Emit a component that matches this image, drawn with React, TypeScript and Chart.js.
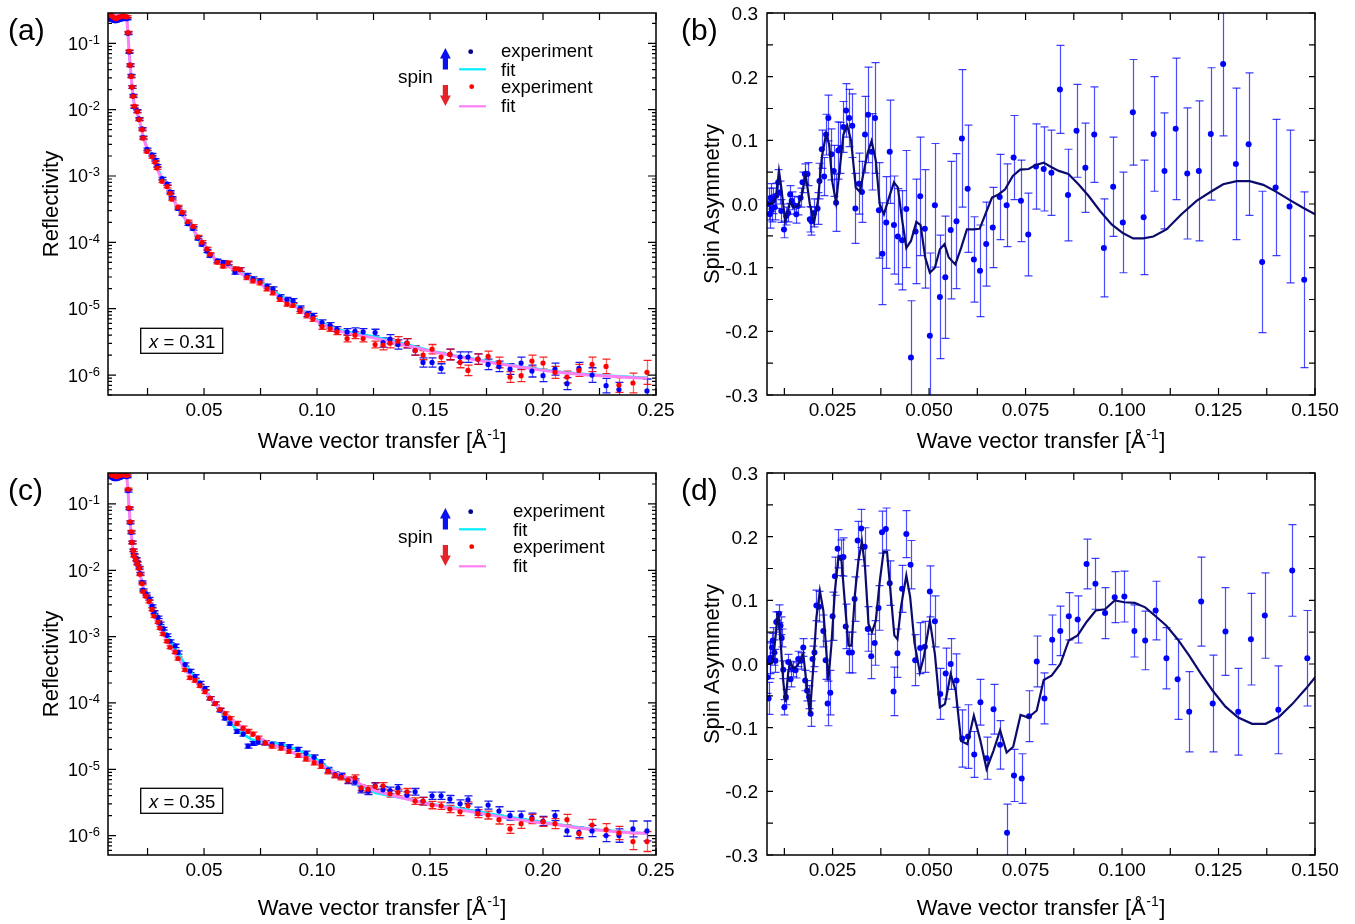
import { useEffect, useRef } from 'react';
import { Chart, registerables } from 'chart.js';
Chart.register(...registerables);

const FONT = '"Liberation Sans", Arial, Helvetica, sans-serif';

// ---------- tick labels ----------
const xTicksRefl = [0.05, 0.1, 0.15, 0.2, 0.25];
const xTicksAsym = [0.025, 0.05, 0.075, 0.1, 0.125, 0.15];
const yTicksAsym = [-0.3, -0.2, -0.1, 0.0, 0.1, 0.2, 0.3];
const logDecades = [-1, -2, -3, -4, -5, -6];
const xTickMarksRefl = [0.025, 0.05, 0.075, 0.1, 0.125, 0.15, 0.175, 0.2, 0.225, 0.25];
const xTickMarksAsym = [0.0125, 0.025, 0.0375, 0.05, 0.0625, 0.075, 0.0875, 0.1, 0.1125, 0.125, 0.1375, 0.15];
const yTickMarksAsym = [-0.3, -0.25, -0.2, -0.15, -0.1, -0.05, 0, 0.05, 0.1, 0.15, 0.2, 0.25, 0.3];

// ---------- panel (a): q, log10 R(spin up), log10 R(spin down), error (dex) ----------
const reflA: [number, number | null, number, number][] = [
  [0.0080, -0.62, -0.57, 0.015], [0.0088, -0.64, -0.58, 0.015], [0.0096, -0.65, -0.60, 0.015],
  [0.0104, -0.66, -0.62, 0.015], [0.0112, -0.66, -0.63, 0.015], [0.0120, -0.65, -0.61, 0.015],
  [0.0128, -0.64, -0.60, 0.015], [0.0136, -0.63, -0.59, 0.015], [0.0144, -0.63, -0.59, 0.015],
  [0.0152, -0.62, -0.60, 0.015], [0.0158, -0.63, -0.60, 0.015],
  [0.0164, -0.85, -0.84, 0.02], [0.0168, -1.13, -1.12, 0.02], [0.0173, -1.33, -1.33, 0.02],
  [0.0177, -1.49, -1.50, 0.02], [0.0181, -1.66, -1.66, 0.02], [0.0186, -1.79, -1.80, 0.02],
  [0.0192, -1.96, -1.95, 0.02], [0.0204, -2.02, -2.03, 0.02], [0.0212, -2.14, -2.15, 0.02],
  [0.0226, -2.29, -2.30, 0.02], [0.0230, -2.42, -2.43, 0.02], [0.0248, -2.60, -2.63, 0.02],
  [0.0270, -2.68, -2.71, 0.02], [0.0283, -2.76, -2.79, 0.02], [0.0292, -2.85, -2.88, 0.02],
  [0.0314, -3.04, -3.08, 0.02], [0.0336, -3.12, -3.16, 0.02], [0.0350, -3.24, -3.26, 0.02],
  [0.0358, -3.33, -3.35, 0.02],
  [0.0385, -3.49, -3.47, 0.025], [0.0403, -3.57, -3.55, 0.025], [0.0429, -3.72, -3.69, 0.025],
  [0.0451, -3.79, -3.76, 0.025], [0.0473, -3.94, -3.92, 0.025], [0.0491, -4.03, -4.00, 0.025],
  [0.0513, -4.13, -4.10, 0.025], [0.0527, -4.20, -4.18, 0.025], [0.0558, -4.28, -4.30, 0.025],
  [0.0584, -4.30, -4.36, 0.025], [0.0606, -4.32, -4.31, 0.025],
  [0.0637, -4.45, -4.40, 0.03], [0.0659, -4.41, -4.41, 0.03], [0.0690, -4.50, -4.53, 0.03],
  [0.0717, -4.55, -4.58, 0.03], [0.0748, -4.58, -4.61, 0.03], [0.0779, -4.66, -4.70, 0.03],
  [0.0805, -4.70, -4.76, 0.03], [0.0836, -4.82, -4.86, 0.03], [0.0867, -4.86, -4.93, 0.03],
  [0.0894, -4.88, -4.95, 0.03],
  [0.0925, -5.00, -5.03, 0.04], [0.0956, -5.08, -5.10, 0.04], [0.0982, -5.11, -5.15, 0.04],
  [0.1022, -5.21, -5.27, 0.04], [0.1058, -5.25, -5.30, 0.04], [0.1088, -5.31, -5.35, 0.04],
  [0.1133, -5.35, -5.45, 0.05], [0.1168, -5.34, -5.40, 0.05], [0.1204, -5.35, -5.45, 0.05],
  [0.1257, -5.36, -5.54, 0.05],
  [0.1292, -5.51, -5.55, 0.07], [0.1323, -5.46, -5.52, 0.07], [0.1358, -5.54, -5.49, 0.07],
  [0.1398, -5.52, -5.52, 0.07], [0.1434, -5.63, -5.63, 0.07], [0.1469, -5.81, -5.70, 0.07],
  [0.1509, -5.81, -5.61, 0.07], [0.1549, -5.90, -5.73, 0.07],
  [0.1588, -5.69, -5.69, 0.08], [0.1633, -5.73, -5.81, 0.08], [0.1668, -5.73, -5.93, 0.08],
  [0.1712, -5.76, -5.76, 0.08], [0.1757, -5.84, -5.72, 0.08], [0.1805, -5.87, -5.81, 0.08],
  [0.1854, -5.91, -6.03, 0.08],
  [0.1903, -5.82, -6.01, 0.09], [0.1951, -5.94, -5.79, 0.09], [0.2000, -6.01, -5.82, 0.09],
  [0.2053, -5.91, -5.96, 0.09], [0.2106, -6.13, -6.03, 0.09], [0.2159, -5.90, -5.93, 0.09],
  [0.2217, -6.00, -5.84, 0.11], [0.2279, -6.16, -5.87, 0.11], [0.2336, -6.22, -6.15, 0.11],
  [0.2398, null, -6.12, 0.15], [0.2460, -6.24, -5.96, 0.18],
];

const fitUpA: [number, number][] = [
  [0.0075, -0.62], [0.0158, -0.63], [0.0163, -0.85], [0.0168, -1.12], [0.0173, -1.33], [0.0178, -1.52],
  [0.0184, -1.72], [0.0190, -1.90], [0.0200, -2.00], [0.0215, -2.17], [0.0230, -2.38], [0.0250, -2.60],
  [0.0270, -2.70], [0.0290, -2.84], [0.0310, -3.00], [0.0335, -3.14], [0.0360, -3.33], [0.0390, -3.51],
  [0.0420, -3.67], [0.0450, -3.80], [0.0480, -3.98], [0.0510, -4.11], [0.0550, -4.26], [0.0600, -4.34],
  [0.0650, -4.43], [0.0700, -4.53], [0.0750, -4.60], [0.0800, -4.71], [0.0850, -4.83], [0.0900, -4.93],
  [0.0950, -5.06], [0.1000, -5.17], [0.1050, -5.26], [0.1100, -5.32], [0.1150, -5.36], [0.1200, -5.39],
  [0.1250, -5.42], [0.1300, -5.46], [0.1400, -5.54], [0.1500, -5.63], [0.1600, -5.70], [0.1700, -5.76],
  [0.1800, -5.82], [0.1900, -5.87], [0.2000, -5.92], [0.2100, -5.96], [0.2200, -5.99], [0.2300, -6.01],
  [0.2400, -6.03], [0.2460, -6.04],
];
const fitDnA: [number, number][] = [
  [0.0075, -0.58], [0.0158, -0.59], [0.0163, -0.84], [0.0168, -1.11], [0.0173, -1.33], [0.0178, -1.52],
  [0.0184, -1.72], [0.0190, -1.90], [0.0200, -2.01], [0.0215, -2.18], [0.0230, -2.40], [0.0250, -2.62],
  [0.0270, -2.72], [0.0290, -2.87], [0.0310, -3.03], [0.0335, -3.16], [0.0360, -3.34], [0.0390, -3.50],
  [0.0420, -3.66], [0.0450, -3.79], [0.0480, -3.96], [0.0510, -4.10], [0.0550, -4.26], [0.0600, -4.35],
  [0.0650, -4.44], [0.0700, -4.55], [0.0750, -4.63], [0.0800, -4.74], [0.0850, -4.86], [0.0900, -4.96],
  [0.0950, -5.08], [0.1000, -5.19], [0.1050, -5.28], [0.1100, -5.34], [0.1150, -5.38], [0.1200, -5.41],
  [0.1250, -5.44], [0.1300, -5.48], [0.1400, -5.56], [0.1500, -5.64], [0.1600, -5.71], [0.1700, -5.77],
  [0.1800, -5.83], [0.1900, -5.88], [0.2000, -5.93], [0.2100, -5.97], [0.2200, -6.00], [0.2300, -6.02],
  [0.2400, -6.04], [0.2460, -6.05],
];

// ---------- panel (c): q, log10 R(up), log10 R(down), error (dex) ----------
const reflC: [number, number | null, number, number][] = [
  [0.0080, -0.58, -0.55, 0.015], [0.0088, -0.59, -0.56, 0.015], [0.0096, -0.61, -0.57, 0.015],
  [0.0104, -0.62, -0.58, 0.015], [0.0112, -0.62, -0.59, 0.015], [0.0120, -0.61, -0.58, 0.015],
  [0.0128, -0.60, -0.57, 0.015], [0.0136, -0.59, -0.56, 0.015], [0.0144, -0.58, -0.56, 0.015],
  [0.0152, -0.58, -0.56, 0.015], [0.0158, -0.59, -0.57, 0.015],
  [0.0164, -0.80, -0.78, 0.02], [0.0168, -1.07, -1.06, 0.02], [0.0173, -1.28, -1.27, 0.02],
  [0.0177, -1.43, -1.42, 0.02], [0.0181, -1.58, -1.58, 0.02], [0.0186, -1.70, -1.70, 0.02],
  [0.0190, -1.77, -1.78, 0.02], [0.0199, -1.83, -1.84, 0.02], [0.0204, -1.89, -1.90, 0.02],
  [0.0212, -1.96, -1.97, 0.02], [0.0217, -2.05, -2.06, 0.02], [0.0226, -2.18, -2.20, 0.02],
  [0.0230, -2.30, -2.32, 0.02], [0.0243, -2.36, -2.39, 0.02], [0.0257, -2.43, -2.47, 0.02],
  [0.0270, -2.54, -2.59, 0.02], [0.0279, -2.63, -2.69, 0.02], [0.0296, -2.71, -2.78, 0.02],
  [0.0305, -2.80, -2.87, 0.02], [0.0319, -2.88, -2.96, 0.02], [0.0336, -2.98, -3.07, 0.02],
  [0.0350, -3.07, -3.16, 0.02],
  [0.0372, -3.14, -3.23, 0.025], [0.0385, -3.24, -3.33, 0.025], [0.0416, -3.42, -3.50, 0.025],
  [0.0438, -3.52, -3.62, 0.025], [0.0460, -3.60, -3.66, 0.025], [0.0482, -3.70, -3.74, 0.025],
  [0.0504, -3.78, -3.83, 0.025], [0.0527, -3.93, -3.93, 0.025], [0.0549, -4.01, -4.01, 0.025],
  [0.0571, -4.11, -4.10, 0.025], [0.0593, -4.23, -4.16, 0.025], [0.0615, -4.31, -4.23, 0.025],
  [0.0646, -4.43, -4.31, 0.03], [0.0673, -4.47, -4.38, 0.03], [0.0695, -4.65, -4.43, 0.03],
  [0.0717, -4.61, -4.47, 0.03], [0.0739, -4.59, -4.53, 0.03], [0.0770, -4.60, -4.60, 0.03],
  [0.0801, -4.62, -4.65, 0.03], [0.0841, -4.63, -4.68, 0.03], [0.0876, -4.66, -4.73, 0.03],
  [0.0916, -4.70, -4.79, 0.03],
  [0.0951, -4.76, -4.84, 0.035], [0.0987, -4.82, -4.90, 0.035], [0.1018, -4.89, -4.95, 0.035],
  [0.1049, -5.01, -5.03, 0.04], [0.1080, -5.08, -5.09, 0.04], [0.1106, -5.10, -5.12, 0.04],
  [0.1137, -5.17, -5.16, 0.045], [0.1168, -5.19, -5.13, 0.045], [0.1195, -5.31, -5.28, 0.045],
  [0.1226, -5.33, -5.30, 0.05], [0.1257, -5.25, -5.26, 0.05], [0.1292, -5.31, -5.25, 0.05],
  [0.1323, -5.32, -5.37, 0.05], [0.1358, -5.28, -5.35, 0.05], [0.1398, -5.39, -5.34, 0.05],
  [0.1434, -5.34, -5.48, 0.05], [0.1469, -5.48, -5.48, 0.055], [0.1509, -5.40, -5.54, 0.055],
  [0.1549, -5.40, -5.55, 0.055], [0.1588, -5.45, -5.60, 0.055], [0.1633, -5.52, -5.64, 0.06],
  [0.1668, -5.46, -5.55, 0.06], [0.1712, -5.63, -5.67, 0.06], [0.1757, -5.54, -5.69, 0.06],
  [0.1805, -5.63, -5.76, 0.065], [0.1854, -5.70, -5.90, 0.065], [0.1903, -5.70, -5.82, 0.07],
  [0.1951, -5.73, -5.75, 0.07], [0.2000, -5.78, -5.79, 0.07], [0.2053, -5.70, -5.82, 0.075],
  [0.2106, -5.93, -5.76, 0.08], [0.2159, -5.95, -5.97, 0.08], [0.2217, -5.93, -5.84, 0.085],
  [0.2279, -6.00, -5.91, 0.09], [0.2336, -6.00, -5.96, 0.1], [0.2398, -5.90, -6.09, 0.12],
  [0.2460, -5.93, -6.09, 0.15],
];

const fitUpC: [number, number][] = [
  [0.0075, -0.58], [0.0158, -0.60], [0.0163, -0.80], [0.0168, -1.06], [0.0173, -1.27], [0.0178, -1.45],
  [0.0184, -1.65], [0.0190, -1.77], [0.0200, -1.86], [0.0212, -1.97], [0.0225, -2.17], [0.0240, -2.35],
  [0.0260, -2.46], [0.0280, -2.63], [0.0300, -2.76], [0.0320, -2.89], [0.0350, -3.06], [0.0380, -3.22],
  [0.0420, -3.44], [0.0460, -3.61], [0.0500, -3.78], [0.0540, -3.97], [0.0580, -4.15], [0.0620, -4.32],
  [0.0650, -4.42], [0.0680, -4.49], [0.0710, -4.55], [0.0740, -4.57], [0.0780, -4.59], [0.0820, -4.61],
  [0.0860, -4.64], [0.0900, -4.69], [0.0950, -4.76], [0.1000, -4.85], [0.1050, -4.98], [0.1100, -5.08],
  [0.1150, -5.16], [0.1200, -5.26], [0.1260, -5.36], [0.1350, -5.42], [0.1450, -5.48], [0.1550, -5.55],
  [0.1650, -5.60], [0.1750, -5.66], [0.1850, -5.72], [0.1950, -5.77], [0.2050, -5.82], [0.2150, -5.87],
  [0.2250, -5.91], [0.2350, -5.94], [0.2460, -5.97],
];
const fitDnC: [number, number][] = [
  [0.0075, -0.56], [0.0158, -0.58], [0.0163, -0.78], [0.0168, -1.05], [0.0173, -1.27], [0.0178, -1.45],
  [0.0184, -1.65], [0.0190, -1.78], [0.0200, -1.87], [0.0212, -1.98], [0.0225, -2.19], [0.0240, -2.38],
  [0.0260, -2.50], [0.0280, -2.68], [0.0300, -2.82], [0.0320, -2.96], [0.0350, -3.14], [0.0380, -3.30],
  [0.0420, -3.50], [0.0460, -3.66], [0.0500, -3.81], [0.0540, -3.97], [0.0580, -4.12], [0.0620, -4.24],
  [0.0650, -4.32], [0.0680, -4.39], [0.0710, -4.46], [0.0740, -4.52], [0.0780, -4.59], [0.0820, -4.65],
  [0.0860, -4.70], [0.0900, -4.76], [0.0950, -4.82], [0.1000, -4.89], [0.1050, -5.00], [0.1100, -5.08],
  [0.1150, -5.15], [0.1200, -5.24], [0.1260, -5.33], [0.1350, -5.41], [0.1450, -5.49], [0.1550, -5.56],
  [0.1650, -5.62], [0.1750, -5.68], [0.1850, -5.74], [0.1950, -5.79], [0.2050, -5.83], [0.2150, -5.88],
  [0.2250, -5.92], [0.2350, -5.95], [0.2460, -5.97],
];

// ---------- panel (b): q, spin asymmetry, error ----------
const asymB: [number, number, number][] = [
  [0.0084, 0.000, 0.025], [0.0087, -0.016, 0.022], [0.0090, 0.010, 0.022], [0.0092, -0.008, 0.020],
  [0.0096, 0.005, 0.020], [0.0100, -0.005, 0.020], [0.0104, 0.013, 0.020], [0.0109, 0.034, 0.020],
  [0.0113, 0.018, 0.018], [0.0117, -0.011, 0.018], [0.0124, -0.040, 0.013], [0.0130, -0.019, 0.014],
  [0.0135, -0.014, 0.014], [0.0140, 0.015, 0.014], [0.0144, 0.005, 0.014], [0.0150, -0.002, 0.014],
  [0.0156, -0.016, 0.014], [0.0160, -0.003, 0.014], [0.0167, 0.010, 0.015], [0.0172, 0.034, 0.016],
  [0.0178, 0.047, 0.016], [0.0185, 0.047, 0.018], [0.0191, -0.024, 0.020], [0.0195, -0.027, 0.022],
  [0.0202, -0.014, 0.022], [0.0211, -0.007, 0.025], [0.0216, 0.036, 0.028], [0.0222, 0.086, 0.030],
  [0.0228, 0.043, 0.030], [0.0233, 0.109, 0.032], [0.0239, 0.135, 0.036], [0.0247, 0.078, 0.040],
  [0.0253, 0.052, 0.040], [0.0259, 0.002, 0.045], [0.0265, 0.084, 0.045], [0.0270, 0.088, 0.040],
  [0.0278, 0.121, 0.040], [0.0285, 0.147, 0.042], [0.0293, 0.135, 0.045], [0.0301, 0.123, 0.050],
  [0.0309, -0.007, 0.055], [0.0318, 0.032, 0.048], [0.0326, 0.019, 0.048], [0.0334, 0.109, 0.060],
  [0.0342, 0.140, 0.075], [0.0351, 0.082, 0.060], [0.0360, 0.135, 0.087], [0.0370, -0.010, 0.075],
  [0.0379, -0.078, 0.080], [0.0389, -0.029, 0.072], [0.0398, 0.082, 0.081], [0.0409, -0.033, 0.077],
  [0.0419, -0.051, 0.075], [0.0430, -0.057, 0.078], [0.0441, -0.008, 0.092], [0.0453, -0.241, 0.089],
  [0.0465, -0.043, 0.082], [0.0477, 0.012, 0.093], [0.0489, -0.039, 0.093], [0.0502, -0.207, 0.13],
  [0.0515, -0.002, 0.097], [0.0528, -0.146, 0.097], [0.0542, -0.115, 0.096], [0.0556, -0.041, 0.108],
  [0.0571, -0.027, 0.106], [0.0585, 0.103, 0.108], [0.0600, 0.024, 0.100], [0.0616, -0.087, 0.067],
  [0.0632, -0.105, 0.072], [0.0648, -0.063, 0.066], [0.0665, -0.037, 0.063], [0.0683, 0.011, 0.067],
  [0.0701, -0.002, 0.065], [0.0719, 0.073, 0.066], [0.0738, 0.005, 0.064], [0.0757, -0.048, 0.065],
  [0.0777, 0.059, 0.067], [0.0797, 0.055, 0.066], [0.0817, 0.049, 0.067], [0.0839, 0.180, 0.069],
  [0.0860, 0.014, 0.072], [0.0882, 0.115, 0.073], [0.0905, 0.057, 0.070], [0.0928, 0.109, 0.075],
  [0.0953, -0.069, 0.077], [0.0977, 0.027, 0.078], [0.1002, -0.029, 0.079], [0.1028, 0.144, 0.083],
  [0.1056, -0.021, 0.090], [0.1082, 0.110, 0.090], [0.1110, 0.052, 0.091], [0.1139, 0.118, 0.111],
  [0.1169, 0.048, 0.103], [0.1199, 0.052, 0.110], [0.1230, 0.110, 0.104], [0.1262, 0.220, 0.113],
  [0.1295, 0.063, 0.119], [0.1328, 0.094, 0.112], [0.1363, -0.091, 0.111], [0.1398, 0.026, 0.107],
  [0.1434, -0.004, 0.120], [0.1472, -0.119, 0.138],
];

const fitB: [number, number][] = [
  [0.0081, 0.000], [0.0094, 0.002], [0.0103, 0.010], [0.0111, 0.052], [0.0117, 0.026], [0.0127, -0.027],
  [0.0140, 0.003], [0.0150, -0.006], [0.0160, -0.003], [0.0170, 0.013], [0.0180, 0.047], [0.0191, 0.000],
  [0.0202, -0.029], [0.0212, 0.005], [0.0222, 0.073], [0.0233, 0.110], [0.0241, 0.094], [0.0249, 0.036],
  [0.0259, 0.002], [0.0267, 0.047], [0.0278, 0.109], [0.0288, 0.123], [0.0298, 0.099], [0.0310, 0.026],
  [0.0321, 0.019], [0.0331, 0.052], [0.0341, 0.081], [0.0351, 0.099], [0.0362, 0.068], [0.0372, 0.000],
  [0.0383, -0.016], [0.0396, 0.010], [0.0409, 0.034], [0.0419, 0.026], [0.0430, -0.024], [0.0441, -0.069],
  [0.0453, -0.058], [0.0467, -0.028], [0.0478, -0.033], [0.0490, -0.084], [0.0502, -0.108], [0.0515, -0.100],
  [0.0528, -0.071], [0.0540, -0.063], [0.0551, -0.084], [0.0568, -0.095], [0.0583, -0.069], [0.0598, -0.040],
  [0.0615, -0.040], [0.0631, -0.039], [0.0646, -0.016], [0.0663, 0.010], [0.0680, 0.015], [0.0697, 0.023],
  [0.0717, 0.044], [0.0736, 0.054], [0.0758, 0.055], [0.0775, 0.061], [0.0797, 0.065], [0.0814, 0.059],
  [0.0836, 0.052], [0.0861, 0.047], [0.0887, 0.031], [0.0913, 0.013], [0.0943, -0.011], [0.0973, -0.032],
  [0.1003, -0.046], [0.1029, -0.054], [0.1055, -0.054], [0.1081, -0.051], [0.1115, -0.040], [0.1154, -0.016],
  [0.1193, 0.005], [0.1232, 0.020], [0.1262, 0.031], [0.1297, 0.036], [0.1331, 0.036], [0.1366, 0.030],
  [0.1400, 0.019], [0.1435, 0.006], [0.1469, -0.006], [0.1500, -0.016],
];

// ---------- panel (d): q, spin asymmetry, error ----------
const asymD: [number, number, number][] = [
  [0.0081, -0.021, 0.025], [0.0084, -0.054, 0.025], [0.0087, 0.005, 0.028], [0.0089, 0.010, 0.025],
  [0.0093, 0.026, 0.022], [0.0095, 0.037, 0.020], [0.0099, 0.018, 0.020], [0.0102, 0.005, 0.018],
  [0.0104, 0.066, 0.016], [0.0108, 0.068, 0.014], [0.0111, 0.079, 0.014], [0.0115, 0.060, 0.014],
  [0.0118, 0.041, 0.014], [0.0122, -0.009, 0.014], [0.0125, -0.068, 0.012], [0.0129, -0.052, 0.012],
  [0.0135, 0.003, 0.012], [0.0141, -0.024, 0.012], [0.0147, -0.008, 0.012], [0.0154, -0.010, 0.012],
  [0.0161, 0.008, 0.012], [0.0168, 0.005, 0.013], [0.0174, 0.026, 0.014], [0.0179, -0.026, 0.016],
  [0.0184, -0.042, 0.016], [0.0189, -0.052, 0.018], [0.0193, -0.078, 0.020], [0.0198, 0.008, 0.020],
  [0.0203, 0.018, 0.022], [0.0208, 0.092, 0.024], [0.0215, 0.090, 0.024], [0.0226, 0.052, 0.025],
  [0.0232, 0.006, 0.030], [0.0237, -0.062, 0.035], [0.0244, -0.045, 0.035], [0.0250, 0.075, 0.038],
  [0.0256, 0.138, 0.030], [0.0263, 0.181, 0.030], [0.0271, 0.167, 0.028], [0.0278, 0.168, 0.030],
  [0.0284, 0.059, 0.035], [0.0292, 0.018, 0.032], [0.0300, 0.018, 0.032], [0.0307, 0.102, 0.035],
  [0.0315, 0.194, 0.030], [0.0324, 0.213, 0.030], [0.0333, 0.184, 0.030], [0.0341, 0.055, 0.035],
  [0.0350, 0.012, 0.035], [0.0359, 0.033, 0.035], [0.0369, 0.088, 0.035], [0.0378, 0.207, 0.033],
  [0.0388, 0.212, 0.033], [0.0398, 0.127, 0.035], [0.0408, -0.043, 0.038], [0.0418, 0.017, 0.038],
  [0.0430, 0.118, 0.037], [0.0441, 0.204, 0.037], [0.0452, 0.156, 0.038], [0.0464, 0.006, 0.040],
  [0.0477, 0.025, 0.040], [0.0489, 0.027, 0.040], [0.0502, 0.114, 0.040], [0.0515, 0.067, 0.040],
  [0.0529, -0.047, 0.040], [0.0543, -0.015, 0.040], [0.0556, 0.000, 0.040], [0.0571, -0.026, 0.042],
  [0.0586, -0.117, 0.045], [0.0601, -0.114, 0.050], [0.0617, -0.142, 0.036], [0.0633, -0.060, 0.036],
  [0.0649, -0.148, 0.033], [0.0667, -0.071, 0.039], [0.0684, -0.127, 0.038], [0.0702, -0.265, 0.045],
  [0.0720, -0.175, 0.041], [0.0740, -0.180, 0.039], [0.0759, -0.082, 0.040], [0.0779, 0.004, 0.040],
  [0.0799, -0.054, 0.040], [0.0819, 0.038, 0.039], [0.0840, 0.052, 0.039], [0.0862, 0.075, 0.037],
  [0.0885, 0.070, 0.037], [0.0908, 0.157, 0.039], [0.0931, 0.126, 0.040], [0.0956, 0.080, 0.040],
  [0.0981, 0.105, 0.040], [0.1006, 0.106, 0.040], [0.1032, 0.052, 0.041], [0.1060, 0.037, 0.046],
  [0.1087, 0.084, 0.046], [0.1115, 0.009, 0.048], [0.1144, -0.024, 0.063], [0.1174, -0.075, 0.063],
  [0.1205, 0.098, 0.070], [0.1235, -0.062, 0.076], [0.1268, 0.051, 0.069], [0.1301, -0.075, 0.068],
  [0.1334, 0.039, 0.072], [0.1370, 0.076, 0.067], [0.1405, -0.072, 0.069], [0.1441, 0.147, 0.072],
  [0.1480, 0.009, 0.075],
];

const fitD: [number, number][] = [
  [0.0078, 0.000], [0.0087, 0.000], [0.0095, 0.003], [0.0102, 0.042], [0.0108, 0.081], [0.0114, 0.047],
  [0.0122, -0.026], [0.0128, -0.060], [0.0135, -0.013], [0.0141, 0.003], [0.0149, -0.008], [0.0158, -0.003],
  [0.0168, 0.008], [0.0174, 0.016], [0.0182, -0.029], [0.0191, -0.079], [0.0200, -0.005], [0.0208, 0.073],
  [0.0217, 0.115], [0.0226, 0.084], [0.0233, 0.026], [0.0239, -0.026], [0.0247, 0.031], [0.0256, 0.115],
  [0.0265, 0.168], [0.0273, 0.163], [0.0282, 0.094], [0.0291, 0.029], [0.0299, 0.029], [0.0308, 0.110],
  [0.0317, 0.163], [0.0326, 0.192], [0.0334, 0.152], [0.0343, 0.063], [0.0352, 0.050], [0.0362, 0.068],
  [0.0372, 0.129], [0.0382, 0.176], [0.0391, 0.176], [0.0399, 0.121], [0.0410, 0.045], [0.0418, 0.039],
  [0.0427, 0.089], [0.0441, 0.139], [0.0451, 0.105], [0.0462, 0.034], [0.0476, -0.013], [0.0486, 0.010],
  [0.0502, 0.068], [0.0515, 0.016], [0.0528, -0.068], [0.0541, -0.063], [0.0556, -0.016], [0.0569, -0.042],
  [0.0583, -0.121], [0.0599, -0.126], [0.0616, -0.081], [0.0632, -0.118], [0.0649, -0.165], [0.0667, -0.136],
  [0.0684, -0.104], [0.0701, -0.139], [0.0718, -0.130], [0.0737, -0.080], [0.0757, -0.084], [0.0779, -0.073],
  [0.0797, -0.025], [0.0818, -0.018], [0.0840, 0.000], [0.0862, 0.037], [0.0885, 0.045], [0.0908, 0.066],
  [0.0932, 0.084], [0.0956, 0.086], [0.0981, 0.100], [0.1006, 0.097], [0.1033, 0.096], [0.1060, 0.089],
  [0.1087, 0.075], [0.1115, 0.060], [0.1144, 0.039], [0.1174, 0.013], [0.1205, -0.016], [0.1235, -0.042],
  [0.1268, -0.067], [0.1301, -0.084], [0.1337, -0.094], [0.1372, -0.094], [0.1407, -0.083], [0.1441, -0.063],
  [0.1476, -0.039], [0.1507, -0.016],
];

// ---------- styles ----------
const BLUE = '#0000ff';
const RED = '#ff0000';
const CYAN = 'rgb(0,238,255)';
const PINK = 'rgb(255,128,245)';
const NAVY = '#0b0b6e';

type ErrSet = { ds: number; lo: (number | null)[]; hi: (number | null)[]; bar: string; cap: string; capHalf: number; width: number };
type Decor = {
  label: string;
  yTitle: string;
  yTitleX: number;
  xTitleY: number;
  xMarks: number[];
  yMarks: number[];
  yMinor: number[];
  xLen: number;
  yLen: number;
  yMinorLen: number;
  logLabels?: number[];
  linLabels?: number[];
  legendTextX?: number;
  boxText?: string;
  errs: ErrSet[];
};

function decorPlugin(o: Decor) {
  return {
    id: 'decor',
    beforeDatasetsDraw(chart: any) {
      const { ctx, chartArea: a, scales } = chart;
      const xs = scales.x;
      const ys = scales.y;
      ctx.save();
      ctx.beginPath();
      ctx.rect(a.left, a.top, a.right - a.left, a.bottom - a.top);
      ctx.clip();
      for (const e of o.errs) {
        const pts = chart.data.datasets[e.ds].data;
        ctx.lineWidth = e.width;
        pts.forEach((p: any, i: number) => {
          if (p.y == null || e.lo[i] == null || e.hi[i] == null) return;
          const x = Math.round(xs.getPixelForValue(p.x)) + 0.5;
          const y1 = ys.getPixelForValue(e.lo[i]);
          const y2 = ys.getPixelForValue(e.hi[i]);
          ctx.strokeStyle = e.bar;
          ctx.beginPath();
          ctx.moveTo(x, y1);
          ctx.lineTo(x, y2);
          ctx.stroke();
          ctx.strokeStyle = e.cap;
          ctx.beginPath();
          ctx.moveTo(x - e.capHalf, y1);
          ctx.lineTo(x + e.capHalf, y1);
          ctx.moveTo(x - e.capHalf, y2);
          ctx.lineTo(x + e.capHalf, y2);
          ctx.stroke();
        });
      }
      ctx.restore();
    },
    afterDraw(chart: any) {
      const { ctx, chartArea: a, scales } = chart;
      const xs = scales.x;
      const ys = scales.y;
      ctx.save();
      // frame
      ctx.strokeStyle = '#000';
      ctx.lineWidth = 1.5;
      ctx.strokeRect(a.left, a.top, a.right - a.left, a.bottom - a.top);
      // inward ticks
      ctx.lineWidth = 1.2;
      ctx.beginPath();
      for (const v of o.xMarks) {
        const px = xs.getPixelForValue(v);
        if (px < a.left - 0.5 || px > a.right + 0.5) continue;
        ctx.moveTo(px, a.bottom);
        ctx.lineTo(px, a.bottom - o.xLen);
        ctx.moveTo(px, a.top);
        ctx.lineTo(px, a.top + o.xLen);
      }
      for (const v of o.yMarks) {
        const py = ys.getPixelForValue(v);
        if (py < a.top - 0.5 || py > a.bottom + 0.5) continue;
        ctx.moveTo(a.left, py);
        ctx.lineTo(a.left + o.yLen, py);
        ctx.moveTo(a.right, py);
        ctx.lineTo(a.right - o.yLen, py);
      }
      for (const v of o.yMinor) {
        const py = ys.getPixelForValue(v);
        if (py < a.top || py > a.bottom) continue;
        ctx.moveTo(a.left, py);
        ctx.lineTo(a.left + o.yMinorLen, py);
        ctx.moveTo(a.right, py);
        ctx.lineTo(a.right - o.yMinorLen, py);
      }
      ctx.stroke();

      ctx.fillStyle = '#000';
      ctx.textBaseline = 'alphabetic';
      // log tick labels 10^n
      if (o.logLabels) {
        for (const e of o.logLabels) {
          const py = ys.getPixelForValue(Math.pow(10, e));
          ctx.font = `13px ${FONT}`;
          ctx.textAlign = 'right';
          const sup = String(e);
          const rx = a.left - 8;
          ctx.fillText(sup, rx, py + 0.5);
          const sw = ctx.measureText(sup).width;
          ctx.font = `18px ${FONT}`;
          ctx.fillText('10', rx - sw - 0.5, py + 6.5);
        }
      }
      // linear y tick labels
      if (o.linLabels) {
        ctx.font = `19px ${FONT}`;
        ctx.textAlign = 'right';
        for (const v of o.linLabels) {
          const py = ys.getPixelForValue(v);
          ctx.fillText(v.toFixed(1), a.left - 9, py + 7);
        }
      }
      // panel label
      ctx.textAlign = 'left';
      ctx.font = `30px ${FONT}`;
      ctx.fillText(o.label, o.label === '(b)' || o.label === '(d)' ? 1 : 8, 40);

      // y title
      ctx.save();
      ctx.translate(o.yTitleX, (a.top + a.bottom) / 2);
      ctx.rotate(-Math.PI / 2);
      ctx.textAlign = 'center';
      ctx.font = `22px ${FONT}`;
      ctx.fillText(o.yTitle, 0, 0);
      ctx.restore();

      // x title with superscript
      const p1 = 'Wave vector transfer [Å';
      const p2 = '-1';
      const p3 = ']';
      ctx.font = `22px ${FONT}`;
      const w1 = ctx.measureText(p1).width;
      const w3 = ctx.measureText(p3).width;
      ctx.font = `14px ${FONT}`;
      const w2 = ctx.measureText(p2).width;
      let tx = (a.left + a.right) / 2 - (w1 + w2 + w3 + 1) / 2;
      ctx.textAlign = 'left';
      ctx.font = `22px ${FONT}`;
      ctx.fillText(p1, tx, o.xTitleY);
      tx += w1;
      ctx.font = `14px ${FONT}`;
      ctx.fillText(p2, tx + 0.5, o.xTitleY - 9);
      tx += w2 + 1;
      ctx.font = `22px ${FONT}`;
      ctx.fillText(p3, tx, o.xTitleY);

      // legend
      if (o.legendTextX !== undefined) {
        const lx = o.legendTextX;
        ctx.font = `19px ${FONT}`;
        ctx.fillText('spin', 398, 83.3);
        // up arrow
        ctx.fillStyle = '#0a10f0';
        ctx.beginPath();
        ctx.moveTo(440, 58.5);
        ctx.lineTo(445.4, 48);
        ctx.lineTo(450.8, 58.5);
        ctx.closePath();
        ctx.fill();
        ctx.fillRect(442.8, 58, 5.2, 11.5);
        // down arrow
        ctx.fillStyle = '#e3222a';
        ctx.fillRect(442.8, 85, 5.2, 11);
        ctx.beginPath();
        ctx.moveTo(440, 95.5);
        ctx.lineTo(450.8, 95.5);
        ctx.lineTo(445.4, 106);
        ctx.closePath();
        ctx.fill();
        // markers
        ctx.fillStyle = '#00008a';
        ctx.beginPath();
        ctx.arc(470.7, 51.7, 2.4, 0, Math.PI * 2);
        ctx.fill();
        ctx.fillStyle = RED;
        ctx.beginPath();
        ctx.arc(471.7, 86.7, 2.4, 0, Math.PI * 2);
        ctx.fill();
        ctx.lineWidth = 2.2;
        ctx.strokeStyle = CYAN;
        ctx.beginPath();
        ctx.moveTo(459, 69.3);
        ctx.lineTo(486, 69.3);
        ctx.stroke();
        ctx.strokeStyle = PINK;
        ctx.beginPath();
        ctx.moveTo(459, 106.3);
        ctx.lineTo(486, 106.3);
        ctx.stroke();
        ctx.fillStyle = '#000';
        ctx.font = `18.5px ${FONT}`;
        ctx.fillText('experiment', lx, 57.3);
        ctx.fillText('fit', lx, 76);
        ctx.fillText('experiment', lx, 93.3);
        ctx.fillText('fit', lx, 112);
      }
      // composition box
      if (o.boxText) {
        ctx.strokeStyle = '#000';
        ctx.lineWidth = 1.3;
        ctx.strokeRect(140.7, 328.3, 82, 25);
        ctx.fillStyle = '#000';
        ctx.font = `italic 18.5px ${FONT}`;
        ctx.fillText('x', 149, 347.5);
        const wx = ctx.measureText('x').width;
        ctx.font = `18.5px ${FONT}`;
        ctx.fillText(' = ' + o.boxText, 149 + wx, 347.5);
      }
      ctx.restore();
    },
  };
}

const minorLog: number[] = [];
for (let e = -7; e <= -1; e++) {
  for (let m = 2; m <= 9; m++) minorLog.push(m * Math.pow(10, e));
}

function tickFont() {
  return { family: FONT, size: 19 };
}

function reflConfig(
  rows: [number, number | null, number, number][],
  fitUp: [number, number][],
  fitDn: [number, number][],
  yMin: number,
  yMax: number,
  topPad: number,
  xH: number,
  decor: Omit<Decor, 'errs'>,
) {
  const up = rows.map((r) => ({ x: r[0], y: r[1] == null ? null : Math.pow(10, r[1]) }));
  const dn = rows.map((r) => ({ x: r[0], y: Math.pow(10, r[2]) }));
  const errs: ErrSet[] = [
    {
      ds: 1,
      lo: rows.map((r) => (r[1] == null ? null : Math.pow(10, r[1] - r[3]))),
      hi: rows.map((r) => (r[1] == null ? null : Math.pow(10, r[1] + r[3]))),
      bar: 'rgba(0,0,255,0.65)',
      cap: 'rgba(0,0,230,0.9)',
      capHalf: 4,
      width: 1.3,
    },
    {
      ds: 0,
      lo: rows.map((r) => Math.pow(10, r[2] - r[3])),
      hi: rows.map((r) => Math.pow(10, r[2] + r[3])),
      bar: 'rgba(255,0,0,0.6)',
      cap: 'rgba(240,0,0,0.85)',
      capHalf: 4,
      width: 1.3,
    },
  ];
  return {
    type: 'scatter',
    data: {
      datasets: [
        { data: dn, pointRadius: 2.6, pointBackgroundColor: RED, pointBorderColor: RED, pointBorderWidth: 0 },
        { data: up, pointRadius: 2.6, pointBackgroundColor: BLUE, pointBorderColor: BLUE, pointBorderWidth: 0 },
        { data: fitDn.map((p) => ({ x: p[0], y: Math.pow(10, p[1]) })), showLine: true, pointRadius: 0, borderColor: PINK, borderWidth: 3 },
        { data: fitUp.map((p) => ({ x: p[0], y: Math.pow(10, p[1]) })), showLine: true, pointRadius: 0, borderColor: CYAN, borderWidth: 2.5 },
      ],
    },
    options: {
      animation: false,
      responsive: false,
      devicePixelRatio: 1,
      events: [],
      layout: { padding: { top: topPad, right: 24, left: 0, bottom: 0 } },
      plugins: { legend: { display: false }, tooltip: { enabled: false } },
      scales: {
        x: {
          type: 'linear',
          min: 0.0075,
          max: 0.25,
          afterBuildTicks: (s: any) => {
            s.ticks = xTicksRefl.map((v) => ({ value: v }));
          },
          afterFit: (s: any) => {
            s.height = xH;
          },
          grid: { display: false, drawTicks: false },
          border: { display: false },
          ticks: { color: '#000', font: tickFont(), padding: 4, maxRotation: 0, autoSkip: false, callback: (v: any) => Number(v).toFixed(2) },
        },
        y: {
          type: 'logarithmic',
          min: yMin,
          max: yMax,
          afterFit: (s: any) => {
            s.width = 108;
          },
          grid: { display: false, drawTicks: false },
          border: { display: false },
          ticks: { display: false },
        },
      },
    },
    plugins: [decorPlugin({ ...decor, errs })],
  };
}

function asymConfig(rows: [number, number, number][], fit: [number, number][], topPad: number, xH: number, decor: Omit<Decor, 'errs'>) {
  const errs: ErrSet[] = [
    {
      ds: 1,
      lo: rows.map((r) => r[1] - r[2]),
      hi: rows.map((r) => r[1] + r[2]),
      bar: 'rgba(0,0,255,0.7)',
      cap: 'rgba(0,0,255,0.75)',
      capHalf: 4,
      width: 1.2,
    },
  ];
  return {
    type: 'scatter',
    data: {
      datasets: [
        { data: fit.map((p) => ({ x: p[0], y: p[1] })), showLine: true, pointRadius: 0, borderColor: NAVY, borderWidth: 2.2 },
        { data: rows.map((r) => ({ x: r[0], y: r[1] })), pointRadius: 3, pointBackgroundColor: BLUE, pointBorderColor: BLUE, pointBorderWidth: 0 },
      ],
    },
    options: {
      animation: false,
      responsive: false,
      devicePixelRatio: 1,
      events: [],
      layout: { padding: { top: topPad, right: 40, left: 0, bottom: 0 } },
      plugins: { legend: { display: false }, tooltip: { enabled: false } },
      scales: {
        x: {
          type: 'linear',
          min: 0.008,
          max: 0.15,
          afterBuildTicks: (s: any) => {
            s.ticks = xTicksAsym.map((v) => ({ value: v }));
          },
          afterFit: (s: any) => {
            s.height = xH;
          },
          grid: { display: false, drawTicks: false },
          border: { display: false },
          ticks: { color: '#000', font: tickFont(), padding: 4, maxRotation: 0, autoSkip: false, callback: (v: any) => Number(v).toFixed(3) },
        },
        y: {
          type: 'linear',
          min: -0.3,
          max: 0.3,
          afterBuildTicks: (s: any) => {
            s.ticks = yTicksAsym.map((v) => ({ value: v }));
          },
          afterFit: (s: any) => {
            s.width = 87;
          },
          grid: { display: false, drawTicks: false },
          border: { display: false },
          ticks: { display: false },
        },
      },
    },
    plugins: [decorPlugin({ ...decor, errs })],
  };
}

function Panel({ left, top, width, height, build }: { left: number; top: number; width: number; height: number; build: () => any }) {
  const ref = useRef<HTMLCanvasElement | null>(null);
  useEffect(() => {
    if (!ref.current) return;
    const chart = new Chart(ref.current, build());
    return () => chart.destroy();
  }, []);
  return <canvas ref={ref} width={width} height={height} style={{ position: 'absolute', left, top, width, height }} />;
}

const reflDecor = (label: string, xTitleY: number, legendTextX: number, boxText: string) => ({
  label,
  yTitle: 'Reflectivity',
  yTitleX: 58,
  xTitleY,
  xMarks: xTickMarksRefl,
  yMarks: logDecades.map((e) => Math.pow(10, e)),
  yMinor: minorLog,
  xLen: 7,
  yLen: 8,
  yMinorLen: 4,
  logLabels: logDecades,
  legendTextX,
  boxText,
});

const asymDecor = (label: string, xTitleY: number) => ({
  label,
  yTitle: 'Spin Asymmetry',
  yTitleX: 39,
  xTitleY,
  xMarks: xTickMarksAsym,
  yMarks: yTickMarksAsym,
  yMinor: [],
  xLen: 7,
  yLen: 6,
  yMinorLen: 0,
  linLabels: yTicksAsym,
});

export default function App() {
  return (
    <div style={{ position: 'absolute', left: 0, top: 0, width: 1355, height: 924, background: '#fff', overflow: 'hidden' }}>
      <Panel left={0} top={0} width={680} height={460} build={() => reflConfig(reflA, fitUpA, fitDnA, 5.0e-7, 0.286, 13, 65, reflDecor('(a)', 448, 501, '0.31'))} />
      <Panel left={680} top={0} width={675} height={460} build={() => asymConfig(asymB, fitB, 13, 65, asymDecor('(b)', 448))} />
      <Panel left={0} top={460} width={680} height={464} build={() => reflConfig(reflC, fitUpC, fitDnC, 5.1e-7, 0.293, 13, 69, reflDecor('(c)', 455, 513, '0.35'))} />
      <Panel left={680} top={460} width={675} height={464} build={() => asymConfig(asymD, fitD, 13, 69, asymDecor('(d)', 455))} />
    </div>
  );
}
